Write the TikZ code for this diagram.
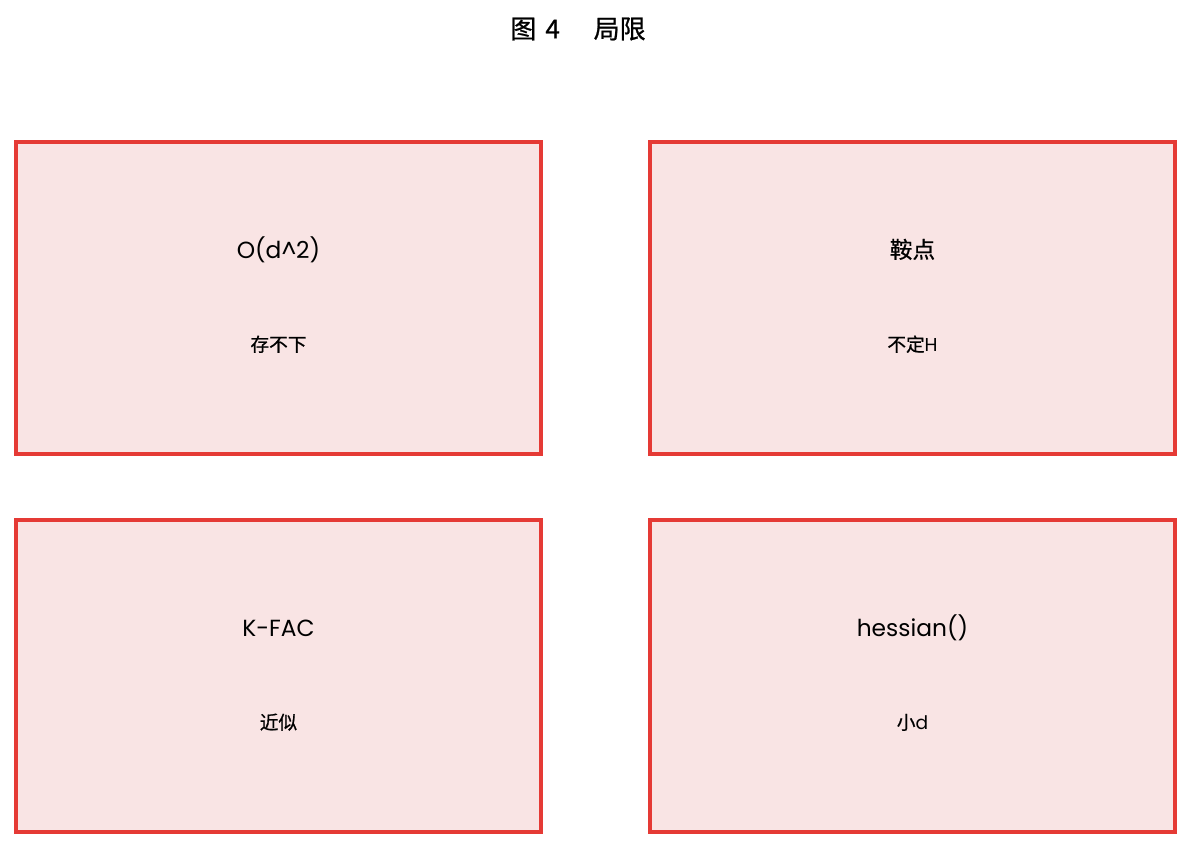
\documentclass[tikz,border=0pt]{standalone}
\usepackage{fontspec}
\setmainfont{Poppins}
\newfontfamily\cjk{Noto Sans CJK SC}
\newfontfamily\cjkb[FakeBold=0.8]{Noto Sans CJK SC}
\usetikzlibrary{positioning}
\definecolor{boxred}{HTML}{E53A35}
\definecolor{boxpink}{HTML}{F9E4E4}
\tikzstyle{limbox} = [
	rectangle,
	draw = boxred,
	fill = boxpink,
	line width = 3pt,
	minimum width = 393.75pt,
	minimum height = 234pt,
	inner sep = 0pt
	]
\tikzstyle{head} = [
	font = \fontsize{17.5}{20}\selectfont,
	inner sep = 0pt
	]
\tikzstyle{note} = [
	font = \cjkb\fontsize{14}{17}\selectfont,
	inner sep = 0pt
	]
\tikzstyle{ttl} = [
	font = \cjkb\fontsize{19.5}{23}\selectfont,
	inner sep = 0pt
	]

\begin{document}
\begin{tikzpicture}[x=0.75pt,y=-0.75pt]
		\useasboundingbox (0,0) rectangle (1192,849);
		\node[ttl] (title) at (578,29) {图\hspace{0.35em}4\hspace{0.3em}　局限};
		\node[limbox] (bmem) at (278.5,298) {};
		\node[limbox] (bsad) at (912.5,298) {};
		\node[limbox] (bkfac) at (278.5,676) {};
		\node[limbox] (bhes) at (912.5,676) {};
		\node[head, above=30pt of bmem.center, anchor=base] (hmem) {O(d\^{}2)};
		\node[note, below=40pt of bmem.center, anchor=base] (nmem) {存不下};
		\node[head, above=30pt of bsad.center, anchor=base, font=\cjkb\fontsize{17}{20}\selectfont] (hsad) {鞍点};
		\node[note, below=40pt of bsad.center, anchor=base] (nsad) {不定{\fontspec{Poppins}H}};
		\node[head, above=30pt of bkfac.center, anchor=base] (hkfac) {K-FAC};
		\node[note, below=40pt of bkfac.center, anchor=base] (nkfac) {近似};
		\node[head, above=30pt of bhes.center, anchor=base] (hhes) {hessian()};
		\node[note, below=40pt of bhes.center, anchor=base] (nhes) {小{\fontspec{Poppins}d}};
	\end{tikzpicture}
\end{document}
